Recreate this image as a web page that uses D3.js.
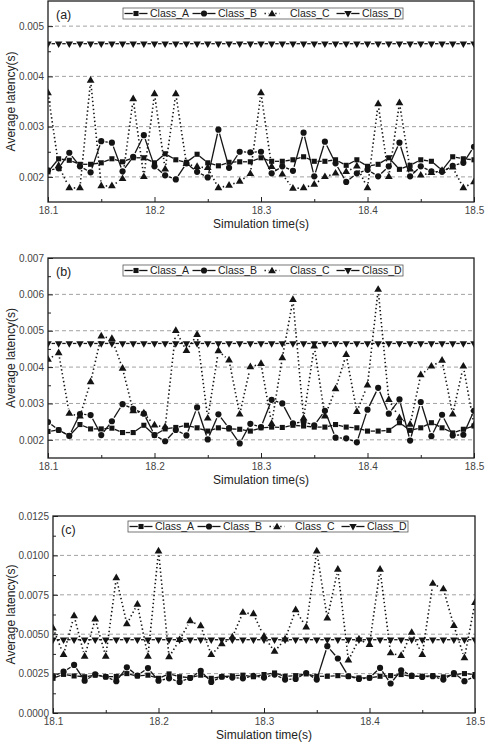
<!DOCTYPE html>
<html>
<head>
<meta charset="utf-8">
<script src="https://cdn.jsdelivr.net/npm/d3@7"></script>
<style>
  html, body { margin: 0; padding: 0; background: #fff; }
  svg { display: block; }
  text { font-family: "Liberation Sans", Arial, sans-serif; }
</style>
</head>
<body>
<svg id="chart" width="485" height="742"></svg>
<script>
// ---------------- DATA ----------------
const times = [18.10,18.11,18.12,18.13,18.14,18.15,18.16,18.17,18.18,18.19,18.20,18.21,18.22,18.23,18.24,18.25,18.26,18.27,18.28,18.29,18.30,18.31,18.32,18.33,18.34,18.35,18.36,18.37,18.38,18.39,18.40,18.41,18.42,18.43,18.44,18.45,18.46,18.47,18.48,18.49,18.50];
const seriesNames = ["Class_A", "Class_B", "Class_C", "Class_D"];
const xTickLabels = [18.1, 18.2, 18.3, 18.4, 18.5];
const xMinorTicks = [18.15, 18.25, 18.35, 18.45];

// Panel (a)
const a_classA = [0.00210,0.00236,0.00233,0.00225,0.00225,0.00228,0.00236,0.00230,0.00238,0.00238,0.00228,0.00246,0.00234,0.00229,0.00245,0.00228,0.00222,0.00229,0.00230,0.00230,0.00238,0.00231,0.00231,0.00234,0.00240,0.00231,0.00231,0.00234,0.00223,0.00234,0.00221,0.00225,0.00238,0.00215,0.00223,0.00234,0.00231,0.00213,0.00240,0.00236,0.00234];
const a_classB = [0.00213,0.00217,0.00248,0.00221,0.00209,0.00271,0.00268,0.00211,0.00240,0.00283,0.00221,0.00203,0.00195,0.00227,0.00210,0.00199,0.00294,0.00218,0.00250,0.00249,0.00250,0.00207,0.00221,0.00212,0.00288,0.00201,0.00270,0.00227,0.00190,0.00207,0.00214,0.00201,0.00221,0.00268,0.00201,0.00221,0.00211,0.00210,0.00222,0.00228,0.00260];
const a_classC = [0.00367,0.00222,0.00178,0.00178,0.00392,0.00182,0.00182,0.00196,0.00355,0.00200,0.00365,0.00215,0.00365,0.00226,0.00220,0.00218,0.00178,0.00183,0.00191,0.00206,0.00367,0.00220,0.00205,0.00177,0.00178,0.00185,0.00200,0.00207,0.00210,0.00221,0.00178,0.00345,0.00200,0.00347,0.00215,0.00203,0.00208,0.00212,0.00219,0.00178,0.00190];
const a_classD = [0.00465,0.00465,0.00465,0.00465,0.00465,0.00465,0.00465,0.00465,0.00465,0.00465,0.00465,0.00465,0.00465,0.00465,0.00465,0.00465,0.00465,0.00465,0.00465,0.00465,0.00465,0.00465,0.00465,0.00465,0.00465,0.00465,0.00465,0.00465,0.00465,0.00465,0.00465,0.00465,0.00465,0.00465,0.00465,0.00465,0.00465,0.00465,0.00465,0.00465,0.00465];
const a_yTicks = [0.002, 0.003, 0.004, 0.005];

// Panel (b)
const b_classA = [0.00223,0.00227,0.00211,0.00242,0.00230,0.00230,0.00232,0.00220,0.00220,0.00240,0.00213,0.00230,0.00234,0.00240,0.00233,0.00224,0.00233,0.00230,0.00229,0.00224,0.00233,0.00235,0.00234,0.00240,0.00238,0.00235,0.00235,0.00242,0.00235,0.00233,0.00224,0.00224,0.00226,0.00247,0.00226,0.00233,0.00247,0.00233,0.00219,0.00229,0.00238];
const b_classB = [0.00249,0.00227,0.00211,0.00271,0.00268,0.00213,0.00251,0.00298,0.00285,0.00272,0.00213,0.00196,0.00227,0.00212,0.00289,0.00201,0.00270,0.00232,0.00190,0.00244,0.00235,0.00310,0.00300,0.00245,0.00250,0.00240,0.00280,0.00206,0.00204,0.00193,0.00283,0.00343,0.00272,0.00311,0.00198,0.00304,0.00210,0.00269,0.00212,0.00214,0.00280];
const b_classC = [0.00421,0.00439,0.00272,0.00265,0.00359,0.00485,0.00478,0.00396,0.00279,0.00273,0.00240,0.00235,0.00500,0.00445,0.00489,0.00259,0.00444,0.00419,0.00270,0.00400,0.00409,0.00244,0.00425,0.00585,0.00259,0.00457,0.00265,0.00340,0.00434,0.00277,0.00350,0.00613,0.00310,0.00260,0.00242,0.00378,0.00402,0.00418,0.00270,0.00402,0.00240];
const b_classD = [0.00465,0.00465,0.00465,0.00465,0.00465,0.00465,0.00465,0.00465,0.00465,0.00465,0.00465,0.00465,0.00465,0.00465,0.00465,0.00465,0.00465,0.00465,0.00465,0.00465,0.00465,0.00465,0.00465,0.00465,0.00465,0.00465,0.00465,0.00465,0.00465,0.00465,0.00465,0.00465,0.00465,0.00465,0.00465,0.00465,0.00465,0.00465,0.00465,0.00465,0.00465];
const b_yTicks = [0.002, 0.003, 0.004, 0.005, 0.006, 0.007];

// Panel (c)
const c_classA = [0.00220,0.00245,0.00235,0.00230,0.00240,0.00230,0.00232,0.00250,0.00235,0.00240,0.00220,0.00248,0.00230,0.00225,0.00240,0.00220,0.00230,0.00235,0.00240,0.00230,0.00244,0.00254,0.00233,0.00237,0.00248,0.00233,0.00233,0.00237,0.00233,0.00223,0.00223,0.00233,0.00237,0.00244,0.00233,0.00233,0.00237,0.00229,0.00244,0.00250,0.00244];
const c_classB = [0.00233,0.00262,0.00305,0.00205,0.00245,0.00230,0.00202,0.00290,0.00238,0.00285,0.00205,0.00220,0.00197,0.00222,0.00267,0.00197,0.00230,0.00225,0.00220,0.00235,0.00225,0.00244,0.00212,0.00216,0.00254,0.00212,0.00424,0.00346,0.00233,0.00216,0.00223,0.00286,0.00187,0.00271,0.00237,0.00229,0.00233,0.00212,0.00254,0.00202,0.00233];
const c_classC = [0.00538,0.00370,0.00616,0.00359,0.00595,0.00359,0.00857,0.00565,0.00689,0.00359,0.01027,0.00355,0.00464,0.00584,0.00552,0.00370,0.00437,0.00481,0.00637,0.00628,0.00485,0.00390,0.00468,0.00653,0.00544,0.01027,0.00601,0.00910,0.00334,0.00468,0.00433,0.00910,0.00380,0.00363,0.00510,0.00370,0.00821,0.00786,0.00553,0.00349,0.00700];
const c_classD = [0.00465,0.00465,0.00465,0.00465,0.00465,0.00465,0.00465,0.00465,0.00465,0.00465,0.00465,0.00465,0.00465,0.00465,0.00465,0.00465,0.00465,0.00465,0.00465,0.00465,0.00465,0.00465,0.00465,0.00465,0.00465,0.00465,0.00465,0.00465,0.00465,0.00465,0.00465,0.00465,0.00465,0.00465,0.00465,0.00465,0.00465,0.00465,0.00465,0.00465,0.00465];
const c_yTicks = [0.0000, 0.0025, 0.0050, 0.0075, 0.0100, 0.0125];

// ---------------- LAYOUT / STYLE ----------------
const panels = [
  { label: "(a)", top: 1, bottom: 202, left: 48, right: 474, domain: [0.0015, 0.0055],
    yTicks: a_yTicks, fmt: d3.format(".3f"), series: [a_classA, a_classB, a_classC, a_classD], legendTop: 8 },
  { label: "(b)", top: 258, bottom: 458, left: 48, right: 474, domain: [0.0015, 0.007],
    yTicks: b_yTicks, fmt: d3.format(".3f"), series: [b_classA, b_classB, b_classC, b_classD], legendTop: 265 },
  { label: "(c)", top: 516, bottom: 713, left: 53, right: 475, domain: [0, 0.0125],
    yTicks: c_yTicks, fmt: d3.format(".4f"), series: [c_classA, c_classB, c_classC, c_classD], legendTop: 521 }
];

const styles = [
  { symbol: d3.symbolSquare,   size: 26, rotate: 0,   gap: 3.2, dash: null,    width: 1.3, legHalf: 11.5 },
  { symbol: d3.symbolCircle,   size: 30, rotate: 0,   gap: 4.2, dash: null,    width: 1.3, legHalf: 11.5 },
  { symbol: d3.symbolTriangle, size: 26, rotate: 0,   gap: 4.5, dash: "1.4,2.6", width: 1.6, legHalf: 7.5 },
  { symbol: d3.symbolTriangle, size: 24, rotate: 180, gap: 3.6, dash: null,    width: 1.3, legHalf: 11.5 }
];
const ink = "#141414";

const svg = d3.select("#chart");
svg.append("rect").attr("width", 485).attr("height", 742).attr("fill", "#fff");

function drawSeries(g, pts, st) {
  // connecting segments with a gap around each symbol (Origin style)
  for (let i = 0; i < pts.length - 1; i++) {
    const [x1, y1] = pts[i], [x2, y2] = pts[i + 1];
    const dx = x2 - x1, dy = y2 - y1, len = Math.hypot(dx, dy);
    if (len <= 2 * st.gap + 0.5) continue;
    const ux = dx / len, uy = dy / len;
    const seg = g.append("line")
      .attr("x1", x1 + ux * st.gap).attr("y1", y1 + uy * st.gap)
      .attr("x2", x2 - ux * st.gap).attr("y2", y2 - uy * st.gap)
      .attr("stroke", ink).attr("stroke-width", st.width);
    if (st.dash) seg.attr("stroke-dasharray", st.dash).attr("stroke-linecap", "butt");
  }
  const sym = d3.symbol().type(st.symbol).size(st.size);
  g.selectAll(null).data(pts).join("path")
    .attr("d", sym)
    .attr("transform", d => `translate(${d[0]},${d[1]}) rotate(${st.rotate})`)
    .attr("fill", ink);
}

panels.forEach(p => {
  const x = d3.scaleLinear().domain([18.1, 18.5]).range([p.left, p.right]);
  const y = d3.scaleLinear().domain(p.domain).range([p.bottom, p.top]);
  const g = svg.append("g");

  // dashed grid lines at labelled ticks inside the frame
  g.selectAll(null).data(p.yTicks.filter(t => t > p.domain[0] + 1e-9 && t < p.domain[1] - 1e-9))
    .join("line")
    .attr("x1", p.left).attr("x2", p.right)
    .attr("y1", d => y(d)).attr("y2", d => y(d))
    .attr("stroke", "#8a8a8a").attr("stroke-width", 0.8).attr("stroke-dasharray", "4,3");

  // series
  const clipId = "clip" + p.label.replace(/[()]/g, "");
  svg.append("clipPath").attr("id", clipId).append("rect")
    .attr("x", p.left).attr("y", p.top).attr("width", p.right - p.left).attr("height", p.bottom - p.top);
  const sg = g.append("g").attr("clip-path", `url(#${clipId})`);
  [3, 2, 1, 0].forEach(k => {
    const pts = times.map((t, i) => [x(t), y(p.series[k][i])]);
    drawSeries(sg.append("g"), pts, styles[k]);
  });

  // y axis (inward ticks)
  const step = p.yTicks[1] - p.yTicks[0];
  const yMinor = p.yTicks.map(t => t + step / 2).filter(t => t < p.domain[1] - 1e-9);
  const yAx = g.append("g").attr("transform", `translate(${p.left},0)`)
    .call(d3.axisLeft(y).tickValues(p.yTicks).tickSize(-5).tickPadding(4).tickFormat(p.fmt));
  const yAxMin = g.append("g").attr("transform", `translate(${p.left},0)`)
    .call(d3.axisLeft(y).tickValues(yMinor).tickSize(-3).tickFormat(""));
  // x axis (inward ticks)
  const xAx = g.append("g").attr("transform", `translate(0,${p.bottom})`)
    .call(d3.axisBottom(x).tickValues(xTickLabels).tickSize(-5).tickPadding(5).tickFormat(d3.format(".1f")));
  const xAxMin = g.append("g").attr("transform", `translate(0,${p.bottom})`)
    .call(d3.axisBottom(x).tickValues(xMinorTicks).tickSize(-3).tickFormat(""));
  [yAx, yAxMin, xAx, xAxMin].forEach(a => {
    a.select(".domain").remove();
    a.selectAll(".tick line").attr("stroke", "#222").attr("stroke-width", 1);
    a.selectAll(".tick text").attr("fill", "#444").style("font-size", "10px")
      .style("font-family", '"Liberation Sans", Arial, sans-serif');
  });

  // frame
  g.append("rect").attr("x", p.left).attr("y", p.top)
    .attr("width", p.right - p.left).attr("height", p.bottom - p.top)
    .attr("fill", "none").attr("stroke", "#1e1e1e").attr("stroke-width", 1.3);

  // panel label
  g.append("text").attr("x", p.left + 8).attr("y", p.top + 18)
    .attr("font-size", 12.5).attr("fill", "#222").text(p.label);

  // axis titles
  g.append("text").attr("x", (p.left + p.right) / 2).attr("y", p.bottom + 26)
    .attr("text-anchor", "middle").attr("font-size", 12).attr("fill", "#222").text("Simulation time(s)");
  g.append("text").attr("transform", `translate(14.5,${(p.top + p.bottom) / 2}) rotate(-90)`)
    .attr("text-anchor", "middle").attr("font-size", 12).attr("fill", "#222").text("Average latency(s)");

  // legend
  const lx = p.left + 75, ly = p.legendTop, lw = 280, lh = 11;
  const lg = g.append("g");
  lg.append("rect").attr("x", lx).attr("y", ly).attr("width", lw).attr("height", lh)
    .attr("fill", "#fff").attr("stroke", "#555").attr("stroke-width", 0.8);
  const itemSym = [13, 81, 149, 225];   // symbol centre offsets
  const itemTxt = [27, 95, 167, 239];   // text start offsets
  seriesNames.forEach((name, k) => {
    const st = styles[k], cx = lx + itemSym[k], cy = ly + lh / 2;
    const half = st.legHalf, gap = 3.2;
    [[cx - half, cx - gap], [cx + gap, cx + half]].forEach(([a, b]) => {
      const l = lg.append("line").attr("x1", a).attr("x2", b).attr("y1", cy).attr("y2", cy)
        .attr("stroke", ink).attr("stroke-width", st.width);
      if (st.dash) l.attr("stroke-dasharray", st.dash);
    });
    lg.append("path").attr("d", d3.symbol().type(st.symbol).size(st.size)())
      .attr("transform", `translate(${cx},${cy + (k === 2 ? 0.6 : k === 3 ? -0.4 : 0)}) rotate(${st.rotate})`)
      .attr("fill", ink);
    lg.append("text").attr("x", lx + itemTxt[k]).attr("y", ly + lh - 1.6)
      .attr("font-size", 10.5).attr("fill", "#222").text(name);
  });
});
</script>
</body>
</html>
